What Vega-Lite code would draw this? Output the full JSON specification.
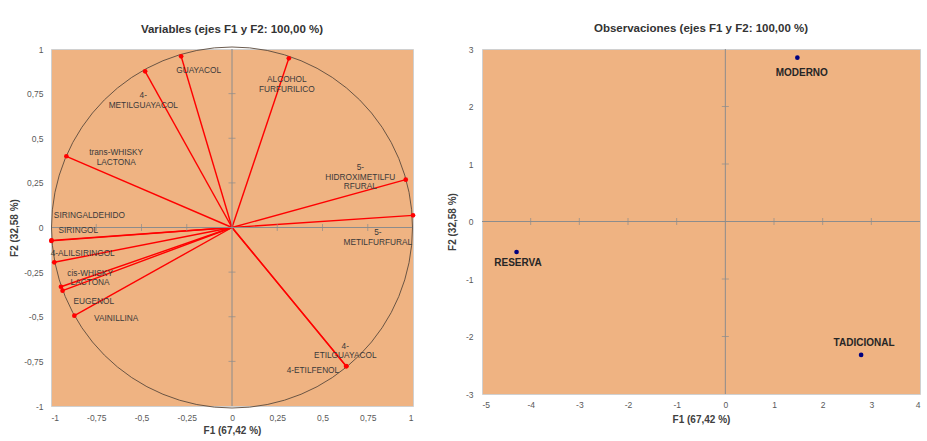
{
  "$schema": "https://vega.github.io/schema/vega-lite/v6.json",
  "background": "white",
  "padding": {"left": 9, "top": 22, "right": 0, "bottom": 0},
  "spacing": 30,
  "config": {
    "font": "'Liberation Sans', Arial, sans-serif",
    "view": {"stroke": "#d0d0d0", "fill": "#EFB382"},
    "axis": {"domain": false, "ticks": false, "grid": false, "labelFontSize": 8.5, "labelColor": "#595959", "titleFontSize": 10, "titleFontWeight": "bold", "titleColor": "#404040"},
    "axisX": {"labelPadding": 7, "titlePadding": 4},
    "axisY": {"labelPadding": 8},
    "title": {"fontSize": 11.5, "fontWeight": "bold", "color": "#333333", "anchor": "middle"}
  },
  "datasets": {
    "one": [{}],
    "vars": [
      {"var": "GUAYACOL", "F1": -0.281, "F2": 0.959, "lx": -0.184, "ly": 0.875, "lab": "GUAYACOL"},
      {"var": "4-METILGUAYACOL", "F1": -0.48, "F2": 0.875, "lx": -0.49, "ly": 0.734, "lab": "4-\nMETILGUAYACOL"},
      {"var": "ALCOHOL FURFURILICO", "F1": 0.314, "F2": 0.948, "lx": 0.303, "ly": 0.826, "lab": "ALCOHOL\nFURFURILICO"},
      {"var": "trans-WHISKY LACTONA", "F1": -0.915, "F2": 0.399, "lx": -0.64, "ly": 0.418, "lab": "trans-WHISKY\nLACTONA"},
      {"var": "5-HIDROXIMETILFURFURAL", "F1": 0.96, "F2": 0.268, "lx": 0.709, "ly": 0.334, "lab": "5-\nHIDROXIMETILFU\nRFURAL"},
      {"var": "5-METILFURFURAL", "F1": 1.0, "F2": 0.068, "lx": 0.806, "ly": -0.03, "lab": "5-\nMETILFURFURAL"},
      {"var": "SIRINGALDEHIDO", "F1": -0.997, "F2": -0.072, "lx": -0.788, "ly": 0.063, "lab": "SIRINGALDEHIDO"},
      {"var": "SIRINGOL", "F1": -0.998, "F2": -0.075, "lx": -0.849, "ly": -0.018, "lab": "SIRINGOL"},
      {"var": "4-ALILSIRINGOL", "F1": -0.982, "F2": -0.195, "lx": -0.825, "ly": -0.148, "lab": "4-ALILSIRINGOL"},
      {"var": "cis-WHISKY LACTONA", "F1": -0.945, "F2": -0.332, "lx": -0.784, "ly": -0.258, "lab": "cis-WHISKY\nLACTONA"},
      {"var": "EUGENOL", "F1": -0.936, "F2": -0.354, "lx": -0.764, "ly": -0.416, "lab": "EUGENOL"},
      {"var": "VAINILLINA", "F1": -0.871, "F2": -0.494, "lx": -0.64, "ly": -0.513, "lab": "VAINILLINA"},
      {"var": "4-ETILGUAYACOL", "F1": 0.63, "F2": -0.776, "lx": 0.626, "ly": -0.667, "lab": "4-\nETILGUAYACOL"},
      {"var": "4-ETILFENOL", "F1": 0.632, "F2": -0.778, "lx": 0.447, "ly": -0.802, "lab": "4-ETILFENOL"}
    ],
    "obs": [
      {"obs": "MODERNO", "F1": 1.48, "F2": 2.85, "lx": 1.57, "ly": 2.59},
      {"obs": "RESERVA", "F1": -4.29, "F2": -0.53, "lx": -4.26, "ly": -0.72},
      {"obs": "TADICIONAL", "F1": 2.79, "F2": -2.32, "lx": 2.85, "ly": -2.11}
    ],
    "ticksL": [{"v": -0.75}, {"v": -0.5}, {"v": -0.25}, {"v": 0.25}, {"v": 0.5}, {"v": 0.75}],
    "ticksRx": [{"v": -4}, {"v": -3}, {"v": -2}, {"v": -1}, {"v": 1}, {"v": 2}, {"v": 3}],
    "ticksRy": [{"v": -2}, {"v": -1}, {"v": 1}, {"v": 2}]
  },
  "hconcat": [
    {
      "width": 362,
      "height": 357,
      "title": {"text": "Variables (ejes F1 y F2: 100,00 %)", "offset": 10},
      "layer": [
        {
          "data": {"name": "vars"},
          "mark": {"type": "rule", "color": "#FF0000", "strokeWidth": 1.4},
          "encoding": {
            "x": {"field": "F1", "type": "quantitative", "scale": {"domain": [-1, 1], "nice": false, "zero": false},
                  "axis": {"title": "F1 (67,42 %)", "values": [-1, -0.75, -0.5, -0.25, 0, 0.25, 0.5, 0.75, 1], "labelExpr": "replace(replace(format(datum.value, '~g'), '.', ','), '−', '-')"}},
            "y": {"field": "F2", "type": "quantitative", "scale": {"domain": [-1, 1], "nice": false, "zero": false},
                  "axis": {"title": "F2 (32,58 %)", "values": [-1, -0.75, -0.5, -0.25, 0, 0.25, 0.5, 0.75, 1], "labelExpr": "replace(replace(format(datum.value, '~g'), '.', ','), '−', '-')", "titlePadding": 4}},
            "x2": {"datum": 0},
            "y2": {"datum": 0}
          }
        },
        {
          "data": {"name": "one"},
          "mark": {"type": "rule", "color": "#8c8c8c", "strokeWidth": 1},
          "encoding": {"x": {"datum": 0, "type": "quantitative"}}
        },
        {
          "data": {"name": "one"},
          "mark": {"type": "rule", "color": "#8c8c8c", "strokeWidth": 1},
          "encoding": {"y": {"datum": 0, "type": "quantitative"}}
        },
        {
          "data": {"name": "ticksL"},
          "mark": {"type": "tick", "orient": "vertical", "color": "#8c8c8c", "size": 7, "thickness": 1},
          "encoding": {"x": {"field": "v", "type": "quantitative"}, "y": {"datum": 0, "type": "quantitative"}}
        },
        {
          "data": {"name": "ticksL"},
          "mark": {"type": "tick", "orient": "horizontal", "color": "#8c8c8c", "size": 7, "thickness": 1},
          "encoding": {"y": {"field": "v", "type": "quantitative"}, "x": {"datum": 0, "type": "quantitative"}}
        },
        {
          "data": {"name": "one"},
          "mark": {"type": "point", "shape": "circle", "filled": false, "size": 130321, "stroke": "#5a4a3c", "strokeWidth": 0.9, "opacity": 1},
          "encoding": {"x": {"datum": 0, "type": "quantitative"}, "y": {"datum": 0, "type": "quantitative"}}
        },
        {
          "data": {"name": "vars"},
          "mark": {"type": "point", "filled": true, "color": "#FF0000", "size": 22, "opacity": 1},
          "encoding": {"x": {"field": "F1", "type": "quantitative"}, "y": {"field": "F2", "type": "quantitative"}}
        },
        {
          "data": {"name": "vars"},
          "mark": {"type": "text", "fontSize": 8.3, "color": "#3a3a3a", "lineBreak": "\n", "lineHeight": 9.7, "align": "center", "baseline": "middle"},
          "encoding": {"x": {"field": "lx", "type": "quantitative"}, "y": {"field": "ly", "type": "quantitative"}, "text": {"field": "lab"}}
        }
      ]
    },
    {
      "width": 438,
      "height": 345,
      "title": {"text": "Observaciones (ejes F1 y F2: 100,00 %)", "offset": 11},
      "layer": [
        {
          "data": {"name": "one"},
          "mark": {"type": "rule", "color": "#8c8c8c", "strokeWidth": 1},
          "encoding": {"x": {"datum": 0, "type": "quantitative", "scale": {"domain": [-5, 4], "nice": false, "zero": false},
                  "axis": {"title": "F1 (67,42 %)", "values": [-5, -4, -3, -2, -1, 0, 1, 2, 3, 4], "labelExpr": "replace(format(datum.value, '~g'), '−', '-')", "labelPadding": 6, "titlePadding": 6}}}
        },
        {
          "data": {"name": "one"},
          "mark": {"type": "rule", "color": "#8c8c8c", "strokeWidth": 1},
          "encoding": {"y": {"datum": 0, "type": "quantitative", "scale": {"domain": [-3, 3], "nice": false, "zero": false},
                  "axis": {"title": "F2 (32,58 %)", "values": [-3, -2, -1, 0, 1, 2, 3], "labelExpr": "replace(format(datum.value, '~g'), '−', '-')", "labelPadding": 9, "titlePadding": 8}}}
        },
        {
          "data": {"name": "ticksRx"},
          "mark": {"type": "tick", "orient": "vertical", "color": "#8c8c8c", "size": 7, "thickness": 1},
          "encoding": {"x": {"field": "v", "type": "quantitative"}, "y": {"datum": 0, "type": "quantitative"}}
        },
        {
          "data": {"name": "ticksRy"},
          "mark": {"type": "tick", "orient": "horizontal", "color": "#8c8c8c", "size": 7, "thickness": 1},
          "encoding": {"y": {"field": "v", "type": "quantitative"}, "x": {"datum": 0, "type": "quantitative"}}
        },
        {
          "data": {"name": "obs"},
          "mark": {"type": "point", "filled": true, "color": "#00007f", "size": 22, "opacity": 1},
          "encoding": {"x": {"field": "F1", "type": "quantitative"}, "y": {"field": "F2", "type": "quantitative"}}
        },
        {
          "data": {"name": "obs"},
          "mark": {"type": "text", "fontSize": 10, "fontWeight": "bold", "color": "#262626", "align": "center", "baseline": "middle"},
          "encoding": {"x": {"field": "lx", "type": "quantitative"}, "y": {"field": "ly", "type": "quantitative"}, "text": {"field": "obs"}}
        }
      ]
    }
  ]
}
